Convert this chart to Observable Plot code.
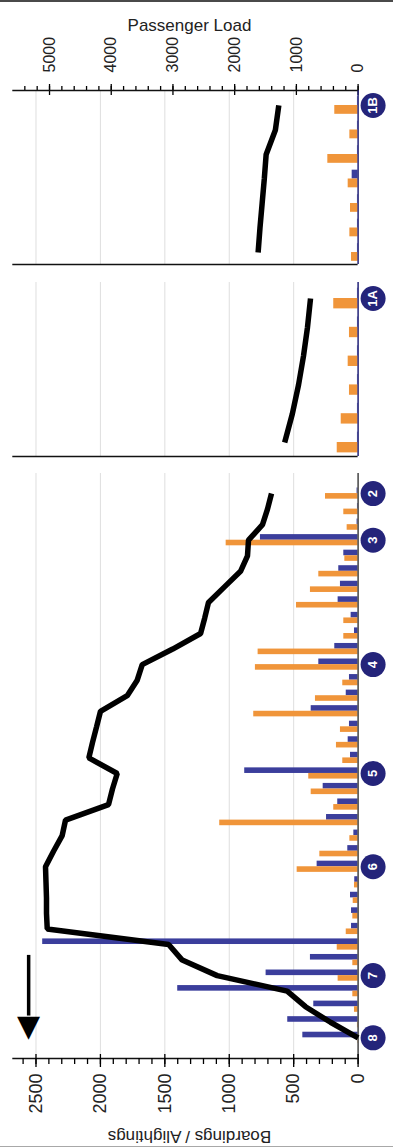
<!DOCTYPE html>
<html>
<head>
<meta charset="utf-8">
<script src="https://cdn.jsdelivr.net/npm/d3@7"></script>
<script src="https://cdn.jsdelivr.net/npm/@observablehq/plot@0.6"></script>
<style>
  html, body { margin: 0; padding: 0; background: #fff; }
  #chart { position: relative; width: 393px; height: 1147px; overflow: hidden; background: #fff;
           font-family: "Liberation Sans", Arial, sans-serif; }
  #chart svg { position: absolute; left: 0; top: 0; }
  #topline { position: absolute; left: 0; top: 0; width: 393px; height: 2px; background: #4a4a4a; }
  #bottomline { position: absolute; left: 0; bottom: 0; width: 393px; height: 1px; background: #a8a8a8; }
</style>
</head>
<body>
<div id="chart"><div id="topline"></div><div id="bottomline"></div></div>
<script>
// ---------------- data ----------------
// Segment 1B (top panel), stops listed top to bottom
const seg1BLabels     = ["1B", "", "", "", "", "", ""];
const seg1BBoardings  = [5, 5, 5, 46, 5, 5, 5];
const seg1BAlightings = [181, 64, 235, 77, 59, 64, 51];
const seg1BLoad       = [1285, 1340, 1490, 1520, 1555, 1590, 1620];

// Segment 1A (middle panel)
const seg1ALabels     = ["1A", "", "", "", "", ""];
const seg1ABoardings  = [5, 5, 5, 5, 5, 5];
const seg1AAlightings = [189, 67, 77, 67, 131, 162];
const seg1ALoad       = [771, 820, 885, 965, 1065, 1190];

// Main trunk (bottom panel), stops listed top (timepoint 2) to bottom (timepoint 8)
const mainLabels = ["2", "", "", "3", "", "", "", "", "", "", "", "4", "", "", "", "", "", "",
                    "5", "", "", "", "", "", "6", "", "", "", "", "", "", "7", "", "", "", "8"];
const mainBoardings = [8, 5, 8, 758, 111, 150, 137, 155, 54, 28, 181, 305, 67, 92, 364, 67, 77, 59,
                       880, 271, 158, 245, 33, 80, 318, 26, 59, 51, 51, 2448, 370, 714, 1400, 344, 546, 429];
const mainAlightings = [253, 111, 85, 1024, 103, 305, 370, 478, 111, 111, 776, 797, 119, 331, 810, 137, 168, 119,
                        383, 364, 189, 1074, 64, 297, 473, 28, 38, 41, 92, 162, 41, 155, 41, 28, 5, 3];
const mainLoad = [1403, 1468, 1549, 1776, 1792, 1905, 2165, 2424, 2485, 2552, 3004, 3498, 3579, 3741, 4174, 4238, 4303, 4363,
                  3903, 3980, 4044, 4741, 4795, 4935, 5065, 5057, 5049, 5049, 5037, 3070, 2850, 2283, 1149, 852, 447, 0];

// axes
const loadMajorTicks  = [0, 1000, 2000, 3000, 4000, 5000];
const loadMinorTicks  = d3.range(0, 5401, 200);
const boardMajorTicks = [0, 500, 1000, 1500, 2000, 2500];
const boardMinorTicks = d3.range(0, 2601, 100);
const gridTicks       = [500, 1000, 1500, 2000, 2500];
const BOARD_MAX = 2680;   // extent of Boardings / Alightings axis
const LOAD_MAX  = 5595;   // extent of Passenger Load axis (same pixel span)

// direction of travel arrow (in stop index / boardings units)
const directionArrow = [{value: 2557, from: 29.7, to: 33.6, head: 34.25}];

// ---------------- styles ----------------
const BLUE = "#3b3e9c", ORANGE = "#f0953a", NAVY = "#24247a";
const W = 393, H = 1147, ML = 12.3, MR = 35.4;
const BAR = 0.36;
const FONT = "'Liberation Sans', Arial, sans-serif";
const LOAD_TO_BOARD = BOARD_MAX / LOAD_MAX;

function rows(labels, boardings, alightings, load) {
  return labels.map((label, i) => ({i, label, boardings: boardings[i], alightings: alightings[i], load: load[i]}));
}

function panel({data, top, bottom, pad0, pad1, baseline, topLine, extra = []}) {
  const yDomain = [-pad0, data.length - 1 + pad1];
  const labelled = data.filter(d => d.label);
  return Plot.plot({
    width: W, height: H, marginLeft: ML, marginRight: MR,
    marginTop: top, marginBottom: H - bottom,
    style: {background: "none", overflow: "visible", fontFamily: FONT},
    x: {domain: [0, BOARD_MAX], reverse: true, axis: null},
    y: {domain: yDomain, reverse: true, axis: null},
    marks: [
      Plot.ruleX(gridTicks, {stroke: "#dedede", strokeWidth: 1}),
      Plot.rect(data, {x1: () => 0, x2: "boardings", y1: d => d.i - BAR, y2: "i", fill: BLUE}),
      Plot.rect(data, {x1: () => 0, x2: "alightings", y1: "i", y2: d => d.i + BAR, fill: ORANGE}),
      Plot.ruleX([0], {stroke: baseline, strokeWidth: 1.5}),
      Plot.ruleY(topLine ? yDomain : [yDomain[1]], {stroke: "#111", strokeWidth: 1.6}),
      Plot.line(data, {x: d => d.load * LOAD_TO_BOARD, y: "i", stroke: "#000", strokeWidth: 5.5,
                       strokeLinecap: "butt", strokeLinejoin: "miter"}),
      Plot.dot(labelled, {y: "i", frameAnchor: "right", dx: 15, r: 12.5, fill: NAVY, stroke: null}),
      Plot.text(labelled, {y: "i", text: "label", frameAnchor: "right", dx: 15, rotate: -90,
                           textAnchor: "middle", lineAnchor: "middle",
                           fill: "white", fontWeight: "bold", fontSize: 13}),
      ...extra
    ]
  });
}

const chart = document.getElementById("chart");

// header: Passenger Load axis
chart.appendChild(Plot.plot({
  width: W, height: H, marginLeft: ML, marginRight: MR, marginTop: 90, marginBottom: H - 90,
  style: {background: "none", overflow: "visible", fontFamily: FONT},
  x: {domain: [0, LOAD_MAX], reverse: true},
  marks: [
    Plot.axisX(loadMinorTicks, {anchor: "top", tickSize: 5, tickFormat: () => "", label: null, strokeWidth: 1.3}),
    Plot.axisX(loadMajorTicks, {anchor: "top", tickSize: 7, tickPadding: 11, tickRotate: -90, textAnchor: "start",
                                fontSize: 16, fill: "#222", label: null, strokeWidth: 1.3, tickFormat: d => String(d)}),
    Plot.axisX(loadMajorTicks, {anchor: "bottom", tickSize: 5, tickFormat: () => "", label: null, strokeWidth: 1.3}),
    Plot.text(["Passenger Load"], {frameAnchor: "top", dy: -72, dx: 4, fontSize: 17, fill: "#222"})
  ]
}));

chart.appendChild(panel({
  data: rows(seg1BLabels, seg1BBoardings, seg1BAlightings, seg1BLoad),
  top: 90, bottom: 264, pad0: 0.612, pad1: 0.49, baseline: NAVY, topLine: true
}));

chart.appendChild(panel({
  data: rows(seg1ALabels, seg1ABoardings, seg1AAlightings, seg1ALoad),
  top: 282, bottom: 456, pad0: 0.556, pad1: 0.486, baseline: NAVY, topLine: false
}));

chart.appendChild(panel({
  data: rows(mainLabels, mainBoardings, mainAlightings, mainLoad),
  top: 473, bottom: 1058, pad0: 1.29, pad1: 1.33, baseline: "#444", topLine: false,
  extra: [
    Plot.ruleX(directionArrow, {x: "value", y1: "from", y2: "to", stroke: "#000", strokeWidth: 3.5}),
    Plot.text(directionArrow, {x: "value", y: "head", text: () => "\u25BC", fontSize: 30, fill: "#000",
                               fontFamily: "DejaVu Sans", lineAnchor: "middle"})
  ]
}));

// footer: Boardings / Alightings axis
chart.appendChild(Plot.plot({
  width: W, height: H, marginLeft: ML, marginRight: MR, marginTop: 1058, marginBottom: H - 1058,
  style: {background: "none", overflow: "visible", fontFamily: FONT},
  x: {domain: [0, BOARD_MAX], reverse: true},
  marks: [
    Plot.axisX(boardMinorTicks, {anchor: "bottom", tickSize: 6, tickFormat: () => "", label: null, strokeWidth: 1.3}),
    Plot.axisX(boardMajorTicks, {anchor: "bottom", tickSize: 9, tickPadding: 6, tickRotate: -90, textAnchor: "end",
                                 fontSize: 18, fill: "#222", label: null, strokeWidth: 1.3, tickFormat: d => String(d)}),
    Plot.axisX(boardMajorTicks, {anchor: "top", tickSize: 5, tickFormat: () => "", label: null, strokeWidth: 1.3}),
    Plot.text(["Boardings / Alightings"], {frameAnchor: "bottom", dy: 72, dx: 4, rotate: 180, fontSize: 17, fill: "#222"})
  ]
}));
</script>
</body>
</html>
